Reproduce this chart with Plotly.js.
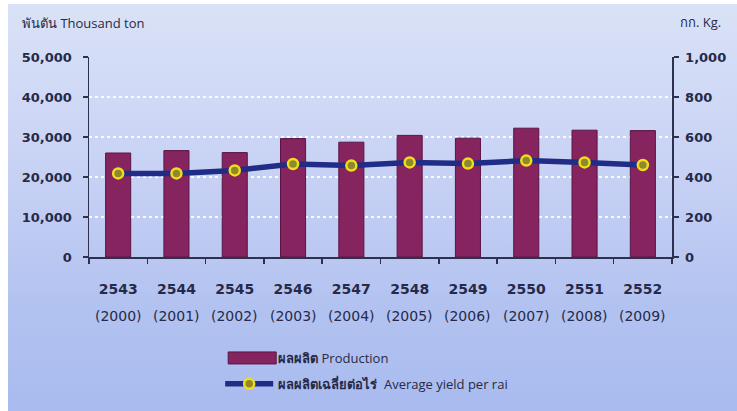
<!DOCTYPE html>
<html>
<head>
<meta charset="utf-8">
<script src="https://cdn.plot.ly/plotly-3.0.1.min.js"></script>
<style>
  html, body { margin: 0; padding: 0; background: #ffffff; }
  #bg { position: absolute; left: 8px; top: 4px; width: 729px; height: 407px;
        background: linear-gradient(to bottom, #dae2f7 0%, #c8d2f4 40%, #b2c2f0 75%, #a9bbef 100%); }
  #chart { position: absolute; left: 0; top: 0; width: 737px; height: 411px; }
</style>
</head>
<body>
<div id="bg"></div>
<div id="chart"></div>
<script>
// Data
const yearsBE = ['2543', '2544', '2545', '2546', '2547', '2548', '2549', '2550', '2551', '2552'];
const yearsAD = ['(2000)', '(2001)', '(2002)', '(2003)', '(2004)', '(2005)', '(2006)', '(2007)', '(2008)', '(2009)'];
const production = [26000, 26600, 26100, 29600, 28700, 30400, 29700, 32200, 31700, 31600]; // thousand ton
const yieldPerRai = [418, 418, 433, 465, 457, 473, 467, 482, 473, 460]; // kg per rai

const leftTicks = [0, 10000, 20000, 30000, 40000, 50000];
const rightTicks = [0, 200, 400, 600, 800, 1000];

const textColor = '#262a48';
const axisColor = '#2c3150';

const barTrace = {
  type: 'bar',
  x: yearsBE,
  y: production,
  name: '<b>ผลผลิต</b> Production',
  marker: { color: '#85245f', line: { color: '#5a1444', width: 1 } },
  yaxis: 'y',
  legendgroup: 'a'
};

const lineTrace = {
  type: 'scatter',
  mode: 'lines+markers',
  x: yearsBE,
  y: yieldPerRai,
  name: '<b>ผลผลิตเฉลี่ยต่อไร่</b>  Average yield per rai',
  yaxis: 'y2',
  line: { color: '#202c86', width: 5.5 },
  marker: { symbol: 'circle', size: 10, color: '#8c8a2c', line: { color: '#f2dc1c', width: 2.5 } },
  legendgroup: 'b'
};

const annotations = [
  { xref: 'paper', yref: 'paper', x: -0.118, y: 1.17, xanchor: 'left', yanchor: 'middle',
    text: 'พันตัน Thousand ton', showarrow: false,
    font: { family: 'Open Sans, DejaVu Sans, sans-serif', size: 13, color: textColor } },
  { xref: 'paper', yref: 'paper', x: 1.0875, y: 1.175, xanchor: 'right', yanchor: 'middle',
    text: 'กก. Kg.', showarrow: false,
    font: { family: 'Open Sans, DejaVu Sans, sans-serif', size: 13, color: textColor } }
];
// second row of category labels (Gregorian years), placed by category index
yearsAD.forEach(function (lab, i) {
  annotations.push({
    xref: 'x', yref: 'paper', x: i, y: -0.295, xanchor: 'center', yanchor: 'middle',
    text: lab, showarrow: false,
    font: { family: 'DejaVu Sans, sans-serif', size: 14, color: textColor }
  });
});

const layout = {
  width: 737,
  height: 411,
  paper_bgcolor: 'rgba(0,0,0,0)',
  plot_bgcolor: 'rgba(0,0,0,0)',
  margin: { l: 89, r: 65, t: 57, b: 154 },
  showlegend: true,
  bargap: 0.57,
  xaxis: {
    type: 'category',
    categoryorder: 'array',
    categoryarray: yearsBE,
    range: [-0.5, yearsBE.length - 0.5],
    autorange: false,
    tickmode: 'array',
    tickvals: yearsBE,
    ticktext: yearsBE.map(function (s) { return '<b>' + s + '</b>'; }),
    tickson: 'boundaries',
    ticks: 'outside',
    ticklen: 5,
    tickcolor: axisColor,
    tickwidth: 1.5,
    showline: true,
    linecolor: axisColor,
    linewidth: 1.5,
    showgrid: false,
    ticklabelstandoff: 19,
    tickfont: { family: 'DejaVu Sans, sans-serif', size: 14, color: textColor },
    fixedrange: true
  },
  yaxis: {
    range: [0, 50000],
    autorange: false,
    tickmode: 'array',
    tickvals: leftTicks,
    ticktext: leftTicks.map(function (v) { return '<b>' + v.toLocaleString('en-US') + '</b>'; }),
    ticks: 'outside',
    ticklen: 5,
    tickcolor: axisColor,
    tickwidth: 1.5,
    showline: true,
    linecolor: axisColor,
    linewidth: 1.5,
    showgrid: true,
    gridcolor: 'rgba(255,255,255,0.9)',
    griddash: 'dot',
    gridwidth: 1.2,
    zeroline: false,
    ticklabelstandoff: 8,
    tickfont: { family: 'DejaVu Sans, sans-serif', size: 13, color: textColor },
    fixedrange: true
  },
  yaxis2: {
    overlaying: 'y',
    side: 'right',
    range: [0, 1000],
    autorange: false,
    tickmode: 'array',
    tickvals: rightTicks,
    ticktext: rightTicks.map(function (v) { return '<b>' + v.toLocaleString('en-US') + '</b>'; }),
    ticks: 'outside',
    ticklen: 5,
    tickcolor: axisColor,
    tickwidth: 1.5,
    showline: true,
    linecolor: axisColor,
    linewidth: 1.5,
    showgrid: false,
    zeroline: false,
    ticklabelstandoff: 4,
    tickfont: { family: 'DejaVu Sans, sans-serif', size: 13, color: textColor },
    fixedrange: true
  },
  legend: {
    x: 0.225,
    y: -0.43,
    xanchor: 'left',
    yanchor: 'top',
    orientation: 'v',
    traceorder: 'grouped',
    tracegroupgap: 6,
    itemwidth: 48,
    bgcolor: 'rgba(0,0,0,0)',
    font: { family: 'Open Sans, DejaVu Sans, sans-serif', size: 13, color: textColor }
  },
  annotations: annotations
};

Plotly.newPlot('chart', [barTrace, lineTrace], layout, { displayModeBar: false, staticPlot: true })
  .then(function (gd) {
    // widen the bar legend swatch to a long rectangle like the reference
    gd.querySelectorAll('.legend .legendpoints path').forEach(function (p) {
      var d = p.getAttribute('d') || '';
      if (d.indexOf('M6,6H-6V-6H6Z') === 0) {
        p.setAttribute('d', 'M27,6H-21V-6H27Z');
      }
    });
  });
</script>
</body>
</html>
